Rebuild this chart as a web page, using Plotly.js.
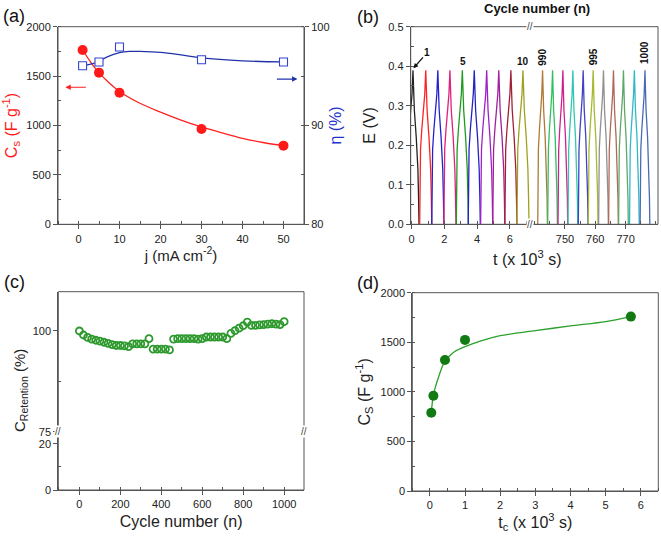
<!DOCTYPE html>
<html>
<head>
<meta charset="utf-8">
<script src="https://cdn.plot.ly/plotly-3.0.1.min.js"></script>
<style>html,body{margin:0;padding:0;background:#fff;}#chart{width:661px;height:536px;}</style>
</head>
<body>
<div id="chart"></div>
<script>
// ---------- Panel (a) data ----------
const currentDensity = [1, 5, 10, 30, 50];
const capacitanceA = [1764, 1535, 1332, 965, 796];
const efficiency = [96.05, 96.43, 97.95, 96.66, 96.43];
const fitJ_Cs = [1, 3, 5, 7.5, 10, 15, 20, 25, 30, 35, 40, 45, 50];
const fitCs = [1764, 1640, 1535, 1430, 1345, 1225, 1135, 1055, 985, 925, 870, 828, 796];
const fitJ_Eta = [1, 3, 5, 7, 10, 12.5, 15, 20, 25, 30, 40, 50];
const fitEta = [96.05, 96.2, 96.5, 96.95, 97.37, 97.5, 97.5, 97.4, 97.15, 96.85, 96.55, 96.43];

// ---------- Panel (b) data ----------
// normalised charge / discharge profile of one cycle (u: -1..0 charge, 0..1 discharge)
const chargeU = [-1, -0.94, -0.86, -0.65, -0.33, -0.16, 0];
const chargeE = [0, 0.10, 0.19, 0.24, 0.29, 0.33, 0.39];
const dischargeU = [0, 0.11, 0.22, 0.54, 0.81, 0.92, 1];
const dischargeE = [0.39, 0.33, 0.29, 0.22, 0.14, 0.07, 0];
const earlyPeaks = [0.08, 0.86, 1.6, 2.34, 3.1, 3.83, 4.59, 5.33, 6.07, 6.81]; // cycles 1-10
const latePeaks = [742.6, 745.9, 749.3, 752.6, 756.0, 759.3, 762.7, 766.0, 769.3, 772.9, 776.4]; // cycles 990-1000
const earlyHalfWidth = 0.37;
const lateHalfWidth = 1.6;
const earlyColors = ['#222222', '#ff2222', '#2222d0', '#e0207a', '#1f9a1f', '#2323c0', '#a020c8', '#a0209a', '#a02038', '#a0a020'];
const lateColors = ['#b07838', '#30c060', '#d02090', '#30c8b0', '#4242c4', '#a8b830', '#909090', '#b06858', '#5fa868', '#30b8c8', '#4a6ab4'];
const earlyLabels = [{n: '1', i: 0}, {n: '5', i: 4}, {n: '10', i: 9}];
const lateLabels = [{n: '990', i: 0}, {n: '995', i: 5}, {n: '1000', i: 10}];
const lateTicks = [750, 760, 770];

// ---------- Panel (c) data ----------
const cycleNumber = [];
for (let n = 0; n <= 1000; n += 20) cycleNumber.push(n);
const retention = [100.0, 99.0, 98.4, 98.0, 97.7, 97.5, 97.2, 96.9, 96.6, 96.4, 96.4, 96.3, 96.1,
  96.8, 96.8, 96.8, 96.8, 98.1, 95.5, 95.5, 95.5, 95.5, 95.3, 98.0, 98.1, 98.1, 98.1, 98.1, 98.1,
  98.0, 98.1, 98.5, 98.5, 98.5, 98.5, 98.5, 98.1, 99.4, 100.1, 100.7, 101.3, 102.2, 101.4, 101.4,
  101.5, 101.6, 101.7, 101.8, 101.7, 101.6, 102.3];

// ---------- Panel (d) data ----------
const chargeTime = [0.04, 0.1, 0.43, 1.0, 5.72];
const capacitanceD = [790, 961, 1322, 1524, 1759];
const fitTc = [0.04, 0.1, 0.25, 0.43, 0.55, 0.7, 1, 1.5, 2, 3, 4, 5, 5.72];
const fitCsD = [790, 968, 1153, 1315, 1360, 1405, 1456, 1520, 1567, 1617, 1665, 1708, 1759];

// ---------- helpers ----------
const W = 661, H = 536;
const px = v => v / W;
const py = v => 1 - v / H;
const FONT = 'Arial, "Liberation Sans", sans-serif';
const tickFont = {family: FONT, size: 11, color: '#222'};
const LINE = '#555';

function cycleTrace(peak, half, color, xa) {
  const xs = chargeU.map(u => peak + u * half).concat(dischargeU.slice(1).map(u => peak + u * half));
  const ys = chargeE.concat(dischargeE.slice(1));
  return {x: xs, y: ys, mode: 'lines', line: {color: color, width: 1.3}, xaxis: xa, yaxis: 'y3', hoverinfo: 'skip'};
}

const traces = [];
// (a)
traces.push({x: fitJ_Cs, y: fitCs, mode: 'lines', line: {color: '#ff2020', width: 1.3, shape: 'spline'}, xaxis: 'x', yaxis: 'y'});
traces.push({x: fitJ_Eta, y: fitEta, mode: 'lines', line: {color: '#2233aa', width: 1.3, shape: 'spline'}, xaxis: 'x', yaxis: 'y2'});
traces.push({x: currentDensity, y: capacitanceA, mode: 'markers', marker: {color: '#ff1a1a', size: 10}, xaxis: 'x', yaxis: 'y'});
traces.push({x: currentDensity, y: efficiency, mode: 'markers', marker: {symbol: 'square', color: '#ffffff', size: 8, line: {color: '#3344cc', width: 1.1}}, xaxis: 'x', yaxis: 'y2'});
// (b)
earlyPeaks.forEach((p, i) => traces.push(cycleTrace(p, earlyHalfWidth, earlyColors[i], 'x3')));
latePeaks.forEach((p, i) => traces.push(cycleTrace(p, lateHalfWidth, lateColors[i], 'x4')));
// (c)
traces.push({x: [], y: [], mode: 'markers', xaxis: 'x5', yaxis: 'y5'});
traces.push({x: cycleNumber, y: retention, mode: 'markers', marker: {symbol: 'circle-open', color: '#2e9a2e', size: 7, line: {width: 1.8}}, xaxis: 'x5', yaxis: 'y6'});
// (d)
traces.push({x: fitTc, y: fitCsD, mode: 'lines', line: {color: '#2ca02c', width: 1.3, shape: 'spline', smoothing: 0.8}, xaxis: 'x7', yaxis: 'y7'});
traces.push({x: chargeTime, y: capacitanceD, mode: 'markers', marker: {color: '#127a12', size: 10}, xaxis: 'x7', yaxis: 'y7'});

function axis(extra) {
  return Object.assign({
    showline: true, linecolor: LINE, linewidth: 1, ticks: 'outside', ticklen: 4, tickcolor: LINE,
    showgrid: false, zeroline: false, tickfont: tickFont, fixedrange: true
  }, extra);
}
const minor = (o) => Object.assign({ticks: 'inside', ticklen: 3, tickcolor: LINE, showgrid: false}, o);

const yA = [py(224.3), py(26.7)];
const layout = {
  width: W, height: H, margin: {l: 0, r: 0, t: 0, b: 0}, showlegend: false,
  paper_bgcolor: '#fff', plot_bgcolor: 'rgba(0,0,0,0)', font: {family: FONT, color: '#222'},
  // (a)
  xaxis: axis({domain: [px(58), px(304)], anchor: 'y', range: [-5, 55], tick0: 0, dtick: 10, minor: minor({dtick: 5}),
    title: {text: 'j (mA cm<sup>-2</sup>)', font: {size: 15, color: '#222'}, standoff: 6}}),
  yaxis: axis({domain: yA, anchor: 'x', range: [0, 2000], dtick: 500, minor: minor({dtick: 250}),
    title: {text: 'C<sub>s</sub> (F g<sup>-1</sup>)', font: {size: 16, color: '#ff1a1a'}, standoff: 6}}),
  yaxis2: axis({overlaying: 'y', side: 'right', anchor: 'x', range: [80, 100], dtick: 10, minor: minor({dtick: 5}),
    title: {text: 'η (%)', font: {size: 16, color: '#2233cc'}, standoff: 1}}),
  // (b)
  xaxis3: axis({domain: [px(410.7), px(530)], anchor: 'y3', range: [-0.06, 7.24], tick0: 0, dtick: 2, minor: minor({dtick: 1})}),
  xaxis4: axis({domain: [px(530), px(658)], anchor: 'y3', range: [738.45, 780.7], tickvals: lateTicks, minor: minor({dtick: 5})}),
  yaxis3: axis({domain: yA, anchor: 'x3', range: [0, 0.5], dtick: 0.1, tickformat: '.1f', minor: minor({dtick: 0.05}),
    title: {text: 'E (V)', font: {size: 16, color: '#222'}, standoff: 8}}),
  // (c)
  xaxis5: axis({domain: [px(58.3), px(304)], anchor: 'y5', range: [-103, 1097], tick0: 0, dtick: 200, minor: minor({dtick: 100}),
    title: {text: 'Cycle number (n)', font: {size: 16, color: '#222'}, standoff: 6}}),
  yaxis5: axis({domain: [py(490), py(431.7)], anchor: 'x5', range: [0, 25.3], tickvals: [0, 20], minor: minor({tickvals: [10]})}),
  yaxis6: axis({domain: [py(431.7), py(291.7)], anchor: 'x5', range: [75, 109.75], tickvals: [75, 100], minor: minor({tickvals: [87.5]})}),
  // (d)
  xaxis7: axis({domain: [px(412.3), px(658.3)], anchor: 'y7', range: [-0.5, 6.5], tick0: 0, dtick: 1, minor: minor({dtick: 0.5}),
    title: {text: 't<sub>c</sub> (x 10<sup>3</sup> s)', font: {size: 16, color: '#222'}, standoff: 6}}),
  yaxis7: axis({domain: [py(491), py(292.7)], anchor: 'x7', range: [0, 2000], dtick: 500, minor: minor({dtick: 250}),
    title: {text: 'C<sub>S</sub> (F g<sup>-1</sup>)', font: {size: 16, color: '#222'}, standoff: 6}}),
  shapes: [],
  annotations: []
};

// panel frames
[[58, 26.7, 304, 224.3], [410.7, 26.7, 658, 224.3], [58.3, 291.7, 304, 490], [412.3, 292.7, 658.3, 491]].forEach(([x0, y0, x1, y1]) =>
  layout.shapes.push({type: 'rect', xref: 'paper', yref: 'paper', x0: px(x0), x1: px(x1), y0: py(y1), y1: py(y0),
    line: {color: LINE, width: 1}, fillcolor: 'rgba(0,0,0,0)', layer: 'above'}));

const ann = layout.annotations;
const paperText = (text, x, y, size, extra) => ann.push(Object.assign({text: text, xref: 'paper', yref: 'paper', x: px(x), y: py(y),
  xanchor: 'center', yanchor: 'middle', showarrow: false, font: {size: size, color: '#111'}}, extra || {}));
// panel letters
[['(a)', 14, 16], ['(b)', 368, 17], ['(c)', 14, 282], ['(d)', 368, 283]].forEach(([t, x, y]) => paperText(t, x, y, 18));
// (a) arrows
ann.push({xref: 'x', yref: 'y', x: -3.2, y: 1387, ax: 22, ay: 0, text: '', showarrow: true, arrowhead: 2, arrowsize: 0.9, arrowwidth: 1.2, arrowcolor: '#ff2020'});
ann.push({xref: 'x', yref: 'y2', x: 53.4, y: 94.7, ax: -22, ay: 0, text: '', showarrow: true, arrowhead: 2, arrowsize: 0.9, arrowwidth: 1.2, arrowcolor: '#2233aa'});
// (b) titles
paperText('<b>Cycle number (n)</b>', 537, 9, 13);
paperText('t (x 10<sup>3</sup> s)', 527, 258, 16, {font: {size: 16, color: '#222'}});
// (b) cycle labels
earlyLabels.forEach((l, k) => {
  if (k === 0) {
    ann.push({text: '<b>' + l.n + '</b>', xref: 'x3', yref: 'y3', x: earlyPeaks[l.i] + 0.03, y: 0.395, ax: 14, ay: -16, showarrow: true,
      arrowhead: 2, arrowsize: 0.8, arrowwidth: 1.2, arrowcolor: '#111', font: {size: 10, color: '#111'}});
  } else {
    ann.push({text: '<b>' + l.n + '</b>', xref: 'x3', yref: 'y3', x: earlyPeaks[l.i] + 0.03, y: 0.413, xanchor: 'center', yanchor: 'middle',
      showarrow: false, font: {size: 10, color: '#111'}});
  }
});
lateLabels.forEach(l => ann.push({text: '<b>' + l.n + '</b>', xref: 'x4', yref: 'y3', x: latePeaks[l.i], y: l.n === '1000' ? 0.436 : 0.423,
  xanchor: 'center', yanchor: 'middle', textangle: -90, showarrow: false, font: {size: 10, color: '#111'}}));
// (b) break marks
[26.7, 224.3].forEach(y => paperText('//', 530, y, 10, {bgcolor: '#fff', borderpad: 0, font: {size: 10, color: '#444'}}));
// (c) y title and break marks
paperText('C<sub>Retention</sub> (%)', 20, 391, 15, {textangle: -90, font: {size: 15, color: '#222'}});
[58.3, 304].forEach(x => paperText('//', x, 431.7, 10, {bgcolor: '#fff', borderpad: 0, font: {size: 10, color: '#444'}}));

Plotly.newPlot('chart', traces, layout, {staticPlot: true, displayModeBar: false});
</script>
</body>
</html>
